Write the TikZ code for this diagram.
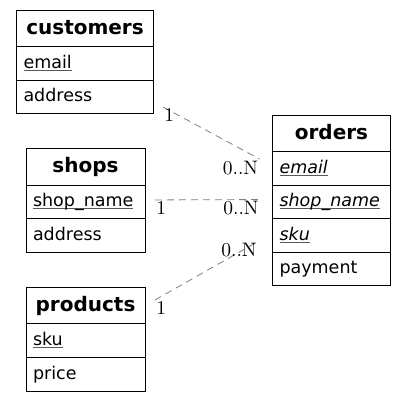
\documentclass[tikz,border=0pt]{standalone}
\usepackage{fontspec}
\newfontfamily\erfont{DejaVu Sans}[ItalicFont={DejaVu Sans Oblique},BoldFont={DejaVu Sans Bold}]
\newfontfamily\cardfont{lmroman10-regular.otf}
\usetikzlibrary{positioning,calc}
\usetikzlibrary{shapes,arrows}

\newcommand{\pkey}[1]{\setbox0\hbox{#1}\rlap{\color{black!65}\rule[-2.3pt]{\wd0}{0.8pt}}\box0}

\tikzset{
	enttitle/.style={draw, line width=1pt, outer sep=0pt, inner xsep=7pt, inner ysep=0pt,
		minimum height=36.5pt, text height=15pt, text depth=4pt, text width=#1, align=center,
		font=\erfont\bfseries\fontsize{20}{24}\selectfont},
	attr/.style={draw, line width=1pt, outer sep=0pt, inner xsep=7pt, inner ysep=0pt,
		minimum height=33.5pt, text height=13.5pt, text depth=4pt, text width=#1, align=left,
		font=\erfont\fontsize{17.5}{21}\selectfont},
	rel/.style={black!50, dash pattern=on 7pt off 5pt, line width=0.8pt},
	card/.style={text=black, inner sep=1pt, font=\cardfont\fontsize{19.5}{24}\selectfont}
}

\begin{document}
\begin{tikzpicture}[x=1pt,y=1pt]
		\useasboundingbox (0,0) rectangle (407,-403);
		
		% customers
		\node[enttitle=123pt, anchor=north west] (customers) at (16.5,-10.5) {customers};
		\node[attr=123pt, below=0pt of customers] (customers-email) {\pkey{email}};
		\node[attr=123pt, below=0pt of customers-email] (customers-address) {address};
		
		% shops
		\node[enttitle=105pt, anchor=north west] (shops) at (26,-149) {shops};
		\node[attr=105pt, below=0pt of shops] (shops-name) {\pkey{shop\_name}};
		\node[attr=105pt, below=0pt of shops-name] (shops-address) {address};
		
		% products
		\node[enttitle=105pt, anchor=north west] (products) at (26,-287.5) {products};
		\node[attr=105pt, below=0pt of products] (products-sku) {\pkey{sku}};
		\node[attr=105pt, below=0pt of products-sku] (products-price) {price};
		
		% orders
		\node[enttitle=104pt, anchor=north west] (orders) at (272.5,-115.5) {orders};
		\node[attr=104pt, below=0pt of orders] (orders-email) {\pkey{\itshape email}};
		\node[attr=104pt, below=0pt of orders-email] (orders-shop) {\pkey{\itshape shop\_name}};
		\node[attr=104pt, below=0pt of orders-shop] (orders-sku) {\pkey{\itshape sku}};
		\node[attr=104pt, below=0pt of orders-sku] (orders-payment) {payment};
		
		% link ends
		\coordinate (cust-out) at ($(customers-address.south east)+(9.5,7)$);
		\coordinate (ord-email-in) at ($(orders-email.north west)+(-13,-7)$);
		\coordinate (shop-out) at ($(shops-name.east)+(10,2.3)$);
		\coordinate (ord-shop-in) at ($(orders-shop.west)+(-12.5,2.7)$);
		\coordinate (prod-out) at ($(products.north east)+(10,-12.5)$);
		\coordinate (ord-sku-in) at ($(orders-sku.north west)+(-14.5,-22.5)$);
		
		% links
		\draw[rel] (cust-out) -- (ord-email-in) node[card, pos=0, below right] {1} node[card, pos=1, below left, yshift=-1pt] {0..N};
		\draw[rel] (shop-out) -- (ord-shop-in) node[card, pos=0, below right] {1} node[card, pos=1, below left] {0..N};
		\draw[rel] (prod-out) -- (ord-sku-in) node[card, pos=0, below right] {1} node[card, pos=1, below left] {0..N};
	\end{tikzpicture}
\end{document}
